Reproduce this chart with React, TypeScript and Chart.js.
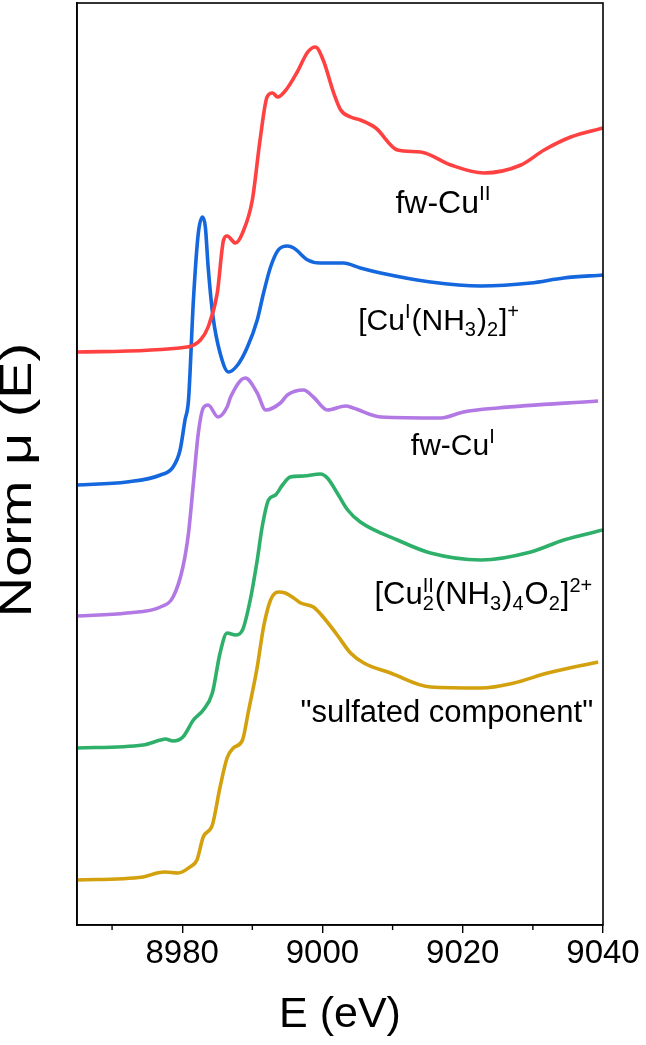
import React, { useEffect, useRef } from "react";
import { Chart, registerables } from "chart.js";

Chart.register(...registerables);

const FONT = '"Liberation Sans", Arial, Helvetica, sans-serif';

const X_MIN = 8965;
const X_MAX = 9040;
const X_TICKS = [8980, 9000, 9020, 9040];
const X_MINOR = [8970, 8990, 9010, 9030];
const Y_MIN = 0;
const Y_MAX = 9.22;

// fw-Cu(II)
const E_RED = [8965, 8980.7, 8982.6, 8983.7, 8985, 8985.9, 8986.4, 8987.6, 8988.6, 8990, 8991.1, 8992.1, 8992.9, 8993.6, 8995, 8996.4, 8997.9, 8999, 9000.1, 9001.6, 9002.6, 9004, 9005.4, 9007.6, 9010.7, 9014, 9018.3, 9023, 9028.3, 9031.6, 9035.4, 9040];
const MU_RED = [5.73, 5.78, 5.85, 5.98, 6.32, 6.85, 6.89, 6.82, 6.92, 7.25, 7.85, 8.28, 8.32, 8.28, 8.37, 8.53, 8.73, 8.78, 8.65, 8.32, 8.15, 8.08, 8.05, 7.97, 7.75, 7.73, 7.6, 7.52, 7.6, 7.75, 7.88, 7.97];

// [Cu(I)(NH3)2]+
const E_BLUE = [8965, 8972.1, 8976.9, 8978.7, 8979.7, 8980.4, 8980.9, 8981.6, 8982.3, 8982.9, 8983.3, 8983.7, 8984.4, 8985.4, 8986.6, 8987.9, 8989.3, 8990.7, 8991.6, 8992.6, 8993.7, 8995, 8995.9, 8997.9, 8999.7, 9003, 9005.4, 9008.3, 9015.4, 9022.6, 9029.7, 9034.4, 9040];
const MU_BLUE = [4.4, 4.43, 4.5, 4.58, 4.75, 5.05, 5.25, 6.25, 6.92, 7.08, 6.98, 6.58, 6.08, 5.72, 5.53, 5.6, 5.78, 6.05, 6.32, 6.58, 6.75, 6.79, 6.77, 6.65, 6.62, 6.62, 6.57, 6.52, 6.43, 6.39, 6.42, 6.47, 6.5];

// fw-Cu(I)
const E_PURPLE = [8965, 8972.1, 8976.9, 8978.7, 8980.1, 8980.9, 8981.6, 8982.3, 8983, 8983.7, 8985.1, 8986.4, 8986.9, 8989, 8990.7, 8991.9, 8994, 8995, 8997.3, 8998.7, 9000.7, 9003.3, 9004.4, 9008.3, 9016.9, 9020.1, 9025, 9039.3];
const MU_PURPLE = [3.09, 3.12, 3.18, 3.28, 3.58, 3.92, 4.42, 4.92, 5.17, 5.2, 5.08, 5.18, 5.28, 5.47, 5.32, 5.15, 5.22, 5.3, 5.35, 5.28, 5.15, 5.19, 5.17, 5.08, 5.07, 5.13, 5.17, 5.24];

// [Cu(II)2(NH3)4O2]2+
const E_GREEN = [8965, 8974.4, 8976.9, 8977.6, 8978.7, 8980.1, 8981.6, 8983, 8984.3, 8985.4, 8986.4, 8987.6, 8988.6, 8989.7, 8990.7, 8991.4, 8992.3, 8993.3, 8994.3, 8995.4, 8997.3, 8999.7, 9000.7, 9002.1, 9003.6, 9005.4, 9010.7, 9015.4, 9022.6, 9029.7, 9034.4, 9040];
const MU_GREEN = [1.77, 1.8, 1.85, 1.86, 1.84, 1.88, 2.05, 2.15, 2.32, 2.72, 2.92, 2.9, 2.95, 3.25, 3.65, 3.98, 4.25, 4.3, 4.4, 4.48, 4.49, 4.51, 4.47, 4.32, 4.15, 4.03, 3.85, 3.72, 3.65, 3.73, 3.85, 3.95];

// "sulfated component"
const E_GOLD = [8965, 8974.4, 8976.4, 8977.6, 8979.4, 8981.1, 8982.1, 8983, 8984.3, 8985.4, 8986.4, 8987.3, 8988.6, 8989.4, 8990.7, 8991.6, 8992.6, 8993.7, 8994.7, 8995.9, 8996.9, 8998.7, 9000.1, 9002.1, 9004, 9005.9, 9009.7, 9015.4, 9022.6, 9027.3, 9032.1, 9039.3];
const MU_GOLD = [0.45, 0.48, 0.52, 0.53, 0.52, 0.58, 0.65, 0.88, 1.0, 1.38, 1.67, 1.77, 1.85, 2.12, 2.58, 2.98, 3.25, 3.33, 3.32, 3.27, 3.22, 3.18, 3.08, 2.9, 2.72, 2.62, 2.52, 2.38, 2.37, 2.42, 2.52, 2.63];

const SERIES = [
  { name: "fw-CuII", e: E_RED, mu: MU_RED, color: "#FF4141" },
  { name: "[CuI(NH3)2]+", e: E_BLUE, mu: MU_BLUE, color: "#1467DD" },
  { name: "fw-CuI", e: E_PURPLE, mu: MU_PURPLE, color: "#B278E4" },
  { name: "[Cu2II(NH3)4O2]2+", e: E_GREEN, mu: MU_GREEN, color: "#2EB06B" },
  { name: "sulfated component", e: E_GOLD, mu: MU_GOLD, color: "#D3A00E" },
];

type Part = { t: string; k?: "sup" | "sub" | "supsub"; sub?: string };
type Label = { parts: Part[]; x: number; y: number; size: number; align: "left" | "right" };

const LABELS: Label[] = [
  { parts: [{ t: "fw-Cu" }, { t: "II", k: "sup" }], x: 9010.4, y: 7.12, size: 32, align: "left" },
  {
    parts: [{ t: "[Cu" }, { t: "I", k: "sup" }, { t: "(NH" }, { t: "3", k: "sub" }, { t: ")" }, { t: "2", k: "sub" }, { t: "]" }, { t: "+", k: "sup" }],
    x: 9005.1, y: 5.95, size: 30, align: "left",
  },
  { parts: [{ t: "fw-Cu" }, { t: "I", k: "sup" }], x: 9012.6, y: 4.7, size: 30, align: "left" },
  {
    parts: [{ t: "[Cu" }, { t: "II", k: "supsub", sub: "2" }, { t: "(NH" }, { t: "3", k: "sub" }, { t: ")" }, { t: "4", k: "sub" }, { t: "O" }, { t: "2", k: "sub" }, { t: "]" }, { t: "2+", k: "sup" }],
    x: 9038.6, y: 3.21, size: 31, align: "right",
  },
  { parts: [{ t: '"sulfated component"' }], x: 9038.6, y: 2.03, size: 31, align: "right" },
];

function partWidth(ctx: CanvasRenderingContext2D, p: Part, size: number) {
  if (!p.k) {
    ctx.font = `${size}px ${FONT}`;
    return ctx.measureText(p.t).width;
  }
  ctx.font = `${Math.round(size * 0.66)}px ${FONT}`;
  const a = ctx.measureText(p.t).width;
  const b = p.sub ? ctx.measureText(p.sub).width : 0;
  return Math.max(a, b) + 1;
}

const labelPlugin = {
  id: "labels",
  afterDatasetsDraw(chart: any) {
    const ctx: CanvasRenderingContext2D = chart.ctx;
    const xs = chart.scales.x;
    const ys = chart.scales.y;
    ctx.save();
    ctx.fillStyle = "#000";
    ctx.textBaseline = "alphabetic";
    ctx.textAlign = "left";
    for (const L of LABELS) {
      const total = L.parts.reduce((s, p) => s + partWidth(ctx, p, L.size), 0);
      let x = xs.getPixelForValue(L.x);
      if (L.align === "right") x -= total;
      const base = ys.getPixelForValue(L.y);
      for (const p of L.parts) {
        const w = partWidth(ctx, p, L.size);
        if (!p.k) {
          ctx.font = `${L.size}px ${FONT}`;
          ctx.fillText(p.t, x, base);
        } else {
          ctx.font = `${Math.round(L.size * 0.66)}px ${FONT}`;
          if (p.k === "sup" || p.k === "supsub") ctx.fillText(p.t, x, base - L.size * 0.4);
          if (p.k === "sub") ctx.fillText(p.t, x, base + L.size * 0.2);
          if (p.k === "supsub" && p.sub) ctx.fillText(p.sub, x, base + L.size * 0.2);
        }
        x += w;
      }
    }
    ctx.restore();
  },
};

const framePlugin = {
  id: "frame",
  afterDraw(chart: any) {
    const ctx: CanvasRenderingContext2D = chart.ctx;
    const { left, right, top, bottom } = chart.chartArea;
    const xs = chart.scales.x;
    ctx.save();
    ctx.strokeStyle = "#000";
    ctx.lineWidth = 1.6;
    ctx.strokeRect(left, top, right - left, bottom - top);
    ctx.lineWidth = 1.4;
    for (const v of X_MINOR) {
      const px = xs.getPixelForValue(v);
      ctx.beginPath();
      ctx.moveTo(px, bottom);
      ctx.lineTo(px, bottom + 5);
      ctx.stroke();
    }
    // y-axis title
    ctx.fillStyle = "#000";
    ctx.translate(19, (top + bottom) / 2 + 16);
    ctx.rotate(-Math.PI / 2);
    ctx.scale(1.27, 1);
    ctx.font = `44px ${FONT}`;
    ctx.textAlign = "center";
    ctx.textBaseline = "middle";
    ctx.fillText("Norm \u03bc (E)", 0, 0);
    ctx.restore();
  },
};

export default function App() {
  const ref = useRef<HTMLCanvasElement | null>(null);

  useEffect(() => {
    document.body.style.margin = "0";
    const canvas = ref.current!;
    const chart = new Chart(canvas, {
      type: "scatter",
      data: {
        datasets: SERIES.map((s) => ({
          label: s.name,
          data: s.e.map((x, i) => ({ x, y: s.mu[i] })),
          showLine: true,
          borderColor: s.color,
          backgroundColor: s.color,
          borderWidth: 3.6,
          pointRadius: 0,
          cubicInterpolationMode: "monotone" as const,
          fill: false,
        })),
      },
      options: {
        animation: false,
        responsive: true,
        maintainAspectRatio: false,
        layout: { padding: { top: 3, right: 43, bottom: 0, left: 0 } },
        plugins: {
          legend: { display: false },
          tooltip: { enabled: false },
        },
        scales: {
          x: {
            type: "linear",
            min: X_MIN,
            max: X_MAX,
            afterBuildTicks: (s: any) => {
              s.ticks = X_TICKS.map((v) => ({ value: v }));
            },
            afterFit: (s: any) => {
              s.height = 120;
            },
            grid: {
              display: true,
              drawOnChartArea: false,
              drawTicks: true,
              tickLength: 8,
              color: "#000",
              lineWidth: 1.4,
            },
            border: { display: true, color: "#000", width: 1.6 },
            ticks: {
              color: "#000",
              font: { family: FONT, size: 33 },
              padding: 1,
              maxRotation: 0,
              autoSkip: false,
              callback: (v: any) => String(v),
            },
            title: {
              display: true,
              text: "E (eV)",
              color: "#000",
              font: { family: FONT, size: 43 },
              padding: { top: 0, bottom: 4 },
            },
          },
          y: {
            type: "linear",
            min: Y_MIN,
            max: Y_MAX,
            afterFit: (s: any) => {
              s.width = 77;
            },
            grid: { display: false },
            border: { display: true, color: "#000", width: 1.6 },
            ticks: { display: false },
            title: { display: false },
          },
        },
      },
      plugins: [labelPlugin, framePlugin],
    });
    return () => chart.destroy();
  }, []);

  return (
    <div style={{ position: "absolute", left: 0, top: 0, width: 646, height: 1045, background: "#fff" }}>
      <canvas ref={ref} />
    </div>
  );
}
